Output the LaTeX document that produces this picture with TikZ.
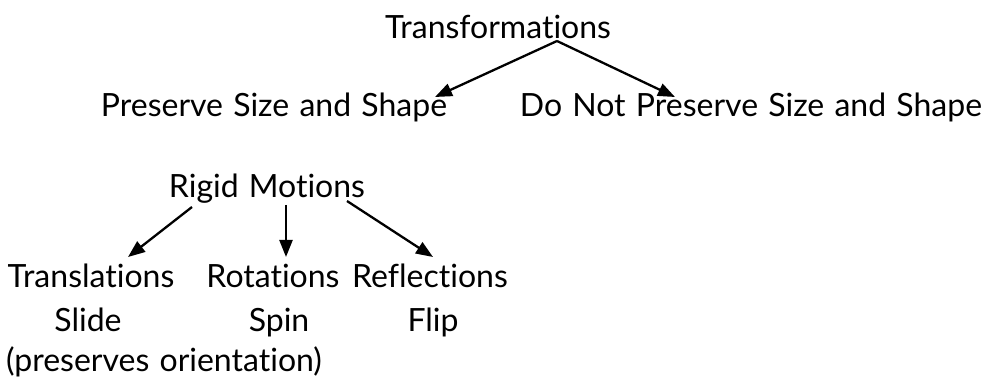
\documentclass[tikz,border=0pt]{standalone}
\usepackage{fontspec}
\setmainfont[Ligatures={NoCommon},WordSpace={1.25}]{Lato}
\usetikzlibrary{arrows.meta}
\begin{document}
\begin{tikzpicture}[x=1pt,y=-1pt,
  lbl/.style={inner sep=0pt,anchor=base,font=\fontsize{32}{36}\selectfont},
  arr/.style={line width=2.3pt,-{Triangle[length=17pt,width=13pt]}}]
\useasboundingbox (0,0) rectangle (989,379);
\node[lbl] (tr) at (498,39) {Transformations};
\node[lbl] (pss) at (274,117) {Preserve Size and Shape};
\node[lbl] (dnp) at (751,117) {Do Not Preserve Size and Shape};
\node[lbl] (rm) at (267,198) {Rigid Motions};
\node[lbl] (tl) at (91,288) {Translations};
\node[lbl] (sl) at (88,332) {Slide};
\node[lbl] (po) at (164,372) {(preserves orientation)};
\node[lbl] (ro) at (273,288) {Rotations};
\node[lbl] (sp) at (279,332) {Spin};
\node[lbl] (re) at (430,288) {Reflections};
\node[lbl] (fl) at (433,332) {Flip};
\coordinate (trs) at (557,41);
\coordinate (pssn) at (435,97);
\coordinate (dnpn) at (675,97);
\coordinate (rml) at (192,207);
\coordinate (rmm) at (286,205);
\coordinate (rmr) at (347,201);
\coordinate (tln) at (128,257);
\coordinate (ron) at (286,257);
\coordinate (ren) at (433,257);
\draw[arr] (trs) -- (pssn);
\draw[arr] (trs) -- (dnpn);
\draw[arr] (rml) -- (tln);
\draw[arr] (rmm) -- (ron);
\draw[arr] (rmr) -- (ren);
\end{tikzpicture}
\end{document}
